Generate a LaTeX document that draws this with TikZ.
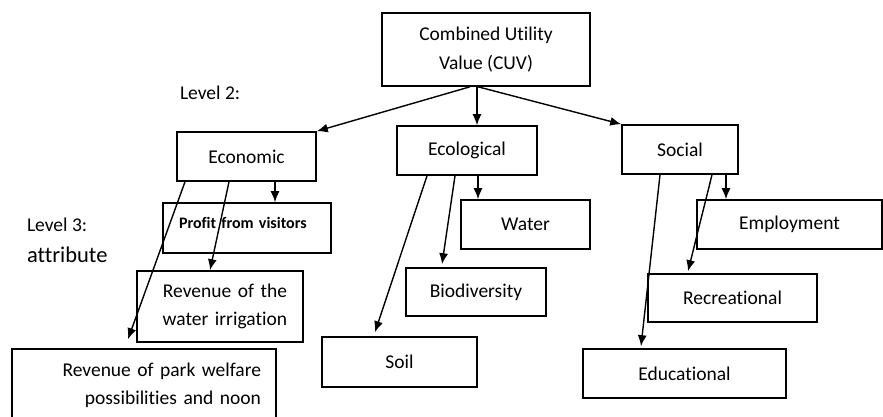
\documentclass[tikz,border=0pt]{standalone}
\usepackage{fontspec}
\setmainfont{Carlito}[Ligatures={NoCommon}]
\usetikzlibrary{arrows.meta}
\tikzset{>={Latex[length=11pt,width=9pt]}}
\tikzset{box/.style={draw,line width=1.6pt,inner sep=0pt,align=center,
    font=\fontsize{19.5}{28.5}\selectfont}}

\begin{document}
\begin{tikzpicture}[x=1pt,y=-1pt,line width=1.4pt]
            \useasboundingbox (0,0) rectangle (883,417);
            \node[box,minimum width=208pt,minimum height=73pt] (cuv) at (486,49.5) {Combined Utility\\Value (CUV)};
            \node[box,minimum width=139pt,minimum height=49pt] (econ) at (246.5,156.5) {Economic};
            \node[box,minimum width=140pt,minimum height=49pt] (ecol) at (467,150.5) {Ecological};
            \node[box,minimum width=116pt,minimum height=49pt] (soc) at (680,149.5) {Social};
            \node[box,text width=136pt,inner xsep=16pt,align=left,text depth=10pt,minimum height=50pt,
                font=\fontsize{16}{19}\selectfont\bfseries] (prof) at (247,228) {Profit from visitors};
            \node[box,text width=134pt,inner xsep=16pt,align=right,minimum height=71pt] (irr) at (220,306.5) {Revenue of the\\water irrigation};
            \node[box,text width=234pt,inner xsep=15pt,align=right,minimum height=73pt] (park) at (144,385.5) {Revenue of park welfare\\possibilities and noon};
            \node[box,minimum width=129pt,minimum height=49pt] (water) at (525.5,224.5) {Water};
            \node[box,minimum width=140pt,minimum height=48pt] (bio) at (476,292) {Biodiversity};
            \node[box,minimum width=155pt,minimum height=50pt] (soil) at (399.5,362) {Soil};
            \node[box,minimum width=185pt,minimum height=49pt] (empl) at (789.5,224.5) {Employment};
            \node[box,minimum width=169pt,minimum height=48pt] (rec) at (732.5,298) {Recreational};
            \node[box,minimum width=203pt,minimum height=49pt] (edu) at (684.5,373.5) {Educational};
            \node[anchor=west,font=\fontsize{19.5}{23}\selectfont] (lvtwo) at (176,93) {Level 2:};
            \node[anchor=west,font=\fontsize{19.5}{23}\selectfont] (lvthree) at (23,225) {Level 3:};
            \node[anchor=west,font=\fontsize{22.5}{27}\selectfont] (attr) at (23,255) {attribute};
            % level 1 to level 2
            \draw[->] ([xshift=-16pt]cuv.south) -- (econ.north east);
            \draw[->] ([xshift=-9pt]cuv.south) -- ([xshift=10pt]ecol.north);
            \draw[->] ([xshift=-8pt]cuv.south) -- (soc.north west);
            % level 2 to level 3
            \draw[->] ([xshift=28.5pt]econ.south) -- ([xshift=28pt]prof.north);
            \draw[->] ([xshift=-17.5pt]econ.south) -- ([xshift=-10pt]irr.north);
            \draw[->] ([xshift=-61.5pt]econ.south) -- ([xshift=-16pt,yshift=9pt]park.north);
            \draw[->] ([xshift=11pt]ecol.south) -- ([xshift=-47.5pt]water.north);
            \draw[->] ([xshift=-12pt]ecol.south) -- ([xshift=-34pt,yshift=3pt]bio.north);
            \draw[->] ([xshift=-40pt]ecol.south) -- ([xshift=-24.5pt,yshift=4pt]soil.north);
            \draw[->] ([xshift=46pt]soc.south) -- ([xshift=-63.5pt]empl.north);
            \draw[->] ([xshift=32pt]soc.south) -- ([xshift=-44.5pt,yshift=2pt]rec.north);
            \draw[->] ([xshift=-20pt]soc.south) -- ([xshift=-43.5pt,yshift=2pt]edu.north);
        \end{tikzpicture}
\end{document}
